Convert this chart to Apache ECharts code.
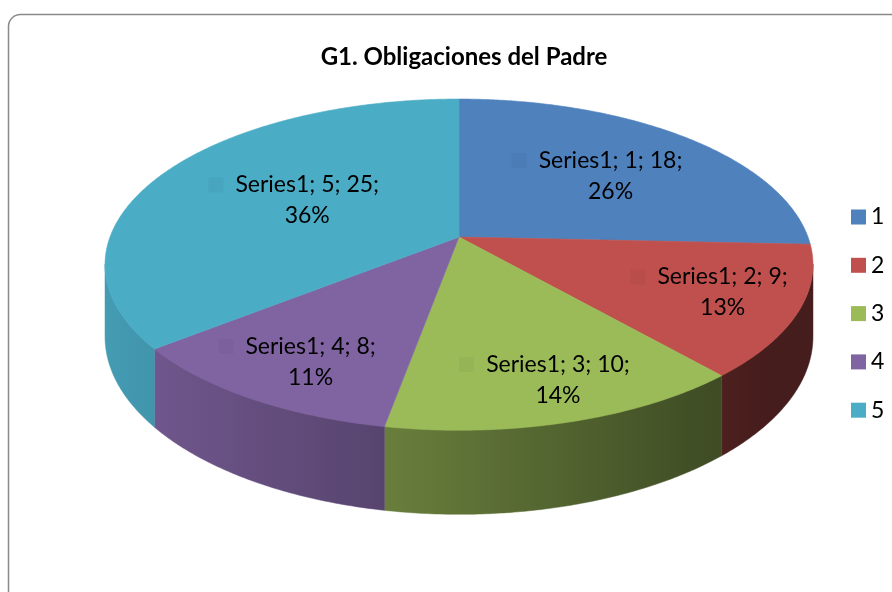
<!DOCTYPE html>
<html>
<head>
<meta charset="utf-8">
<script src="https://cdn.jsdelivr.net/npm/echarts@6/dist/echarts.min.js"></script>
<style>
  html, body { margin: 0; padding: 0; background: #fff; }
  #chart { width: 892px; height: 592px; }
</style>
</head>
<body>
<div id="chart"></div>
<script>
// datos de la grafica
var categories = ['1', '2', '3', '4', '5'];
var values = [18, 9, 10, 8, 25];
var colors = ['#4F81BD', '#C0504D', '#9BBB59', '#8064A2', '#4BACC6'];
var seriesName = 'Series1';
var titleText = 'G1. Obligaciones del Padre';

var total = values.reduce(function (a, b) { return a + b; }, 0);

// pastel 3D en perspectiva (como Excel)
var CX = 459, CY = 237, RA = 349, RB = 161, PERSP = 0.167, DEPTH = 70;
var FONT = 'Lato, "Open Sans", sans-serif';
var LABEL_FONT = '23px ' + FONT;

function proj(phi, r) {
    var t = phi * Math.PI / 180;
    var u = r * Math.sin(t), v = -r * Math.cos(t);
    var k = 1 / (1 - PERSP * v);
    return [CX + RA * u * k, CY + RB * v * k, k, v];
}

function shade(hex, f) {
    var n = parseInt(hex.slice(1), 16);
    var r = Math.round(((n >> 16) & 255) * f);
    var g = Math.round(((n >> 8) & 255) * f);
    var b = Math.round((n & 255) * f);
    return 'rgb(' + r + ',' + g + ',' + b + ')';
}

// luz: el lado izquierdo mas claro, el derecho mas oscuro
function sideFactor(x) {
    return Math.max(0.36, Math.min(0.9, 0.86 - 0.00082 * (x - 160)));
}

var measureCtx = document.createElement('canvas').getContext('2d');
function textWidth(str, font) {
    measureCtx.font = font;
    return measureCtx.measureText(str).width;
}

function sliceRange(index) {
    var start = 0;
    for (var i = 0; i < index; i++) start += values[i];
    return [start / total * 360, (start + values[index]) / total * 360];
}

function makeRender(index) {
    return function (params, api) {
        var range = sliceRange(index);
        var a0 = range[0], a1 = range[1];
        var color = colors[index];
        var children = [];
        var step = 0.5;
        var angles = [];
        for (var a = a0; a < a1; a += step) angles.push(a);
        angles.push(a1);

        // lado visible (solo la parte frontal)
        var front = angles.filter(function (a) {
            return -Math.cos(a * Math.PI / 180) >= PERSP - 0.005;
        });
        if (front.length > 1) {
            var topPts = [], botPts = [];
            var minX = Infinity, maxX = -Infinity;
            front.forEach(function (a) {
                var p = proj(a, 1);
                topPts.push([p[0], p[1] - 0.5]);
                botPts.push([p[0], p[1] + DEPTH * p[2]]);
                minX = Math.min(minX, p[0]);
                maxX = Math.max(maxX, p[0]);
            });
            var stops = [];
            for (var s = 0; s <= 6; s++) {
                var x = minX + (maxX - minX) * s / 6;
                stops.push({ offset: s / 6, color: shade(color, sideFactor(x)) });
            }
            var grad = new echarts.graphic.LinearGradient(minX, 0, maxX, 0, stops, true);
            children.push({
                type: 'polygon',
                shape: { points: topPts.concat(botPts.reverse()) },
                style: { fill: grad, stroke: grad, lineWidth: 0.5 }
            });
        }

        // cara superior
        var pts = [[CX, CY]];
        angles.forEach(function (a) {
            var p = proj(a, 1);
            pts.push([p[0], p[1]]);
        });
        children.push({
            type: 'polygon',
            shape: { points: pts },
            style: { fill: color, stroke: color, lineWidth: 0.6 }
        });

        // etiqueta: clave + "Series1; cat; valor;" + porcentaje
        var mid = (a0 + a1) / 2;
        var half = (a1 - a0) / 2 * Math.PI / 180;
        var vMid = -Math.cos(mid * Math.PI / 180);
        var rc = (2 / 3) * Math.sin(half) / half * (1.09 + 0.16 * vMid);
        var lp = proj(mid, rc);
        var tx = lp[0] + 13.5, ty = lp[1];
        var pct = Math.round(values[index] / total * 100) + '%';
        var line1 = seriesName + '; ' + categories[index] + '; ' + values[index] + ';';
        var w = textWidth(line1, LABEL_FONT);
        children.push({
            type: 'rect',
            shape: { x: tx - w / 2 - 27, y: ty - 15.5 - 7.5, width: 15, height: 15 },
            style: { fill: shade(color, 0.96) }
        });
        children.push({
            type: 'text',
            style: {
                text: line1 + '\n' + pct,
                x: tx, y: ty,
                align: 'center', verticalAlign: 'middle',
                font: LABEL_FONT, lineHeight: 31, fill: '#000'
            }
        });

        return { type: 'group', children: children };
    };
}

var dom = document.getElementById('chart');
var myChart = echarts.init(dom);

var series = categories.map(function (name, i) {
    return {
        name: name,
        type: 'custom',
        coordinateSystem: 'none',
        itemStyle: { color: colors[i] },
        data: [[values[i]]],
        renderItem: makeRender(i),
        silent: true,
        animation: false
    };
});

var option = {
    animation: false,
    title: {
        text: titleText,
        left: 459,
        textAlign: 'center',
        top: 38,
        textStyle: { fontFamily: FONT, fontSize: 24, fontWeight: 'bold', color: '#000', lineHeight: 28 }
    },
    legend: {
        orient: 'vertical',
        left: 846,
        top: 200,
        icon: 'rect',
        itemWidth: 15,
        itemHeight: 15,
        itemGap: 24.3,
        data: categories,
        textStyle: { fontFamily: FONT, fontSize: 23, color: '#000', lineHeight: 24 },
        selectedMode: false
    },
    graphic: [{
        type: 'rect',
        shape: { x: 8.5, y: 14.5, width: 900, height: 600, r: 12 },
        style: { fill: 'none', stroke: '#8a8a8a', lineWidth: 1.5 },
        z: -10
    }],
    series: series
};

myChart.setOption(option);
</script>
</body>
</html>
